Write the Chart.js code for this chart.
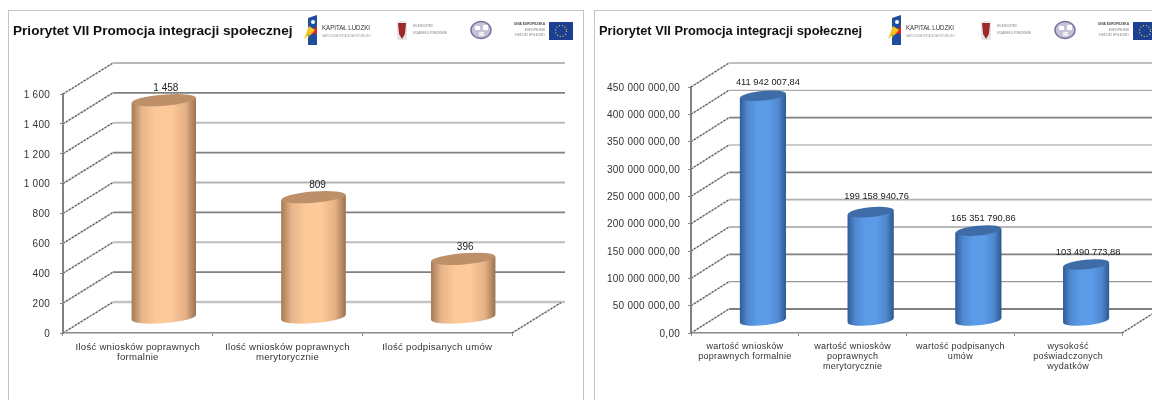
<!DOCTYPE html>
<html lang="pl">
<head>
<meta charset="utf-8">
<title>Priorytet VII Promocja integracji społecznej</title>
<script src="https://cdn.jsdelivr.net/npm/chart.js@4/dist/chart.umd.min.js"></script>
<style>
  html, body { margin: 0; padding: 0; background: #fff; width: 1152px; height: 400px; overflow: hidden; }
  .frame { position: absolute; top: 10px; height: 400px; border: 1px solid #c4c4c4; box-sizing: border-box; }
  canvas { position: absolute; top: 0; filter: blur(0.35px); }
  .title { position: absolute; top: 23px; font: bold 13px "Liberation Sans", Arial, sans-serif; color: #111; white-space: nowrap; filter: blur(0.25px); }
  svg.logos { position: absolute; top: 0; width: 300px; height: 60px; overflow: hidden; filter: blur(0.5px); }
</style>
</head>
<body>
<div class="frame" style="left:8px;width:576px"></div>
<div class="frame" style="left:594px;width:570px"></div>
<div class="title" id="title-left" style="left:13px;font-size:13.6px">Priorytet VII Promocja integracji społecznej</div>
<div class="title" id="title-right" style="left:599px;font-size:12.8px">Priorytet VII Promocja integracji społecznej</div>
<canvas id="chart-left" width="576" height="400" style="left:0"></canvas>
<canvas id="chart-right" width="576" height="400" style="left:576px"></canvas>
<script>
const countLabels = [
  ["Ilość wniosków poprawnych", "formalnie"],
  ["Ilość wniosków poprawnych", "merytorycznie"],
  "Ilość podpisanych umów",
];
const countValues = [1458, 809, 396];

const amountLabels = [
  ["wartość wniosków", "poprawnych formalnie"],
  ["wartość wniosków", "poprawnych", "merytorycznie"],
  ["wartość podpisanych", "umów"],
  ["wysokość", "poświadczonych", "wydatków"],
];
const amountValues = [411942007.84, 199158940.76, 165351790.86, 103490773.88];

const FONT = '"Liberation Sans", Arial, sans-serif';

const ORANGE = {
  stops: ["#a67a55", "#e6b58a", "#fdc998", "#fdc998", "#e4b085", "#9c7250"],
  lid: "#bd9069",
};
const BLUE = {
  stops: ["#2f5c96", "#4f88cf", "#5b9be8", "#5b9be8", "#4f88cf", "#2c5890"],
  lid: "#3e6ca6",
};

function spaced(n) {
  return String(n).replace(/\B(?=(\d{3})+(?!\d))/g, " ");
}
const formatCount = v => spaced(v);
const formatAmount = v => spaced(Math.floor(v)) + "," + v.toFixed(2).slice(-2);

function barGradient(chart, x, width, stops) {
  const g = chart.ctx.createLinearGradient(x - width / 2, 0, x + width / 2, 0);
  const pos = [0, 0.16, 0.38, 0.62, 0.84, 1];
  stops.forEach((c, i) => g.addColorStop(pos[i], c));
  return g;
}

// fake 3D walls and cylinder caps, everything hangs off the real scales
const cylinder3d = {
  id: "cylinder3d",
  beforeDraw(chart) {
    chart.ctx.letterSpacing = "0.25px";
  },
  beforeDatasetsDraw(chart, args, o) {
    const { ctx, scales: { y }, chartArea: area } = chart;
    const ticks = y.ticks.map(t => y.getPixelForValue(t.value));

    ctx.save();
    ticks.forEach((py, i) => {
      ctx.beginPath();
      ctx.strokeStyle = o.gridColors[i];
      ctx.lineWidth = o.gridWidths[i];
      ctx.moveTo(area.left + o.wallX, py + o.wallY);
      ctx.lineTo(o.wallEnd, py + o.wallY);
      ctx.stroke();
    });

    // dashed side wall lines plus the one on the right of the floor
    const slants = ticks.map(py => [area.left, py]);
    slants.push([area.right, area.bottom]);
    slants.forEach(([sx, sy]) => {
      ctx.beginPath();
      ctx.moveTo(sx, sy);
      ctx.lineTo(sx + o.wallX, sy + o.wallY);
      ctx.lineWidth = 1.8;
      ctx.setLineDash([]);
      ctx.strokeStyle = "#cfcfcf";
      ctx.stroke();
      ctx.setLineDash([2, 1.5]);
      ctx.strokeStyle = "#505050";
      ctx.lineWidth = 1.1;
      ctx.stroke();
    });
    ctx.restore();

    // bars sit halfway into the depth of the box
    ctx.save();
    ctx.translate(o.depthX, o.depthY);
    const bars = chart.getDatasetMeta(0).data;
    const slanted = bar => {
      const s = Math.sin(-o.capTilt) * bar.width / 2;
      const x0 = bar.x - bar.width / 2;
      const x1 = bar.x + bar.width / 2;
      ctx.moveTo(x0, bar.y + s);
      ctx.lineTo(x1, bar.y - s);
      ctx.lineTo(x1, bar.base - s);
      ctx.lineTo(x0, bar.base + s);
      ctx.closePath();
    };
    bars.forEach(bar => {
      ctx.fillStyle = barGradient(chart, bar.x, bar.width, o.palette.stops);
      ctx.beginPath();
      ctx.ellipse(bar.x, bar.base, bar.width / 2, o.capRadius, o.capTilt, 0, Math.PI * 2);
      ctx.fill();
      ctx.beginPath();
      slanted(bar);
      ctx.fill();
    });
    ctx.beginPath();
    bars.forEach(slanted);
    ctx.clip();
  },
  afterDatasetsDraw(chart, args, o) {
    const { ctx } = chart;
    ctx.restore();
    const meta = chart.getDatasetMeta(0);
    const values = chart.data.datasets[0].data;
    ctx.save();
    ctx.translate(o.depthX, o.depthY);
    ctx.letterSpacing = "0px";
    meta.data.forEach((bar, i) => {
      ctx.beginPath();
      ctx.ellipse(bar.x, bar.y, bar.width / 2, o.capRadius, o.capTilt, 0, Math.PI * 2);
      ctx.fillStyle = o.palette.lid;
      ctx.fill();

      ctx.fillStyle = "#222";
      ctx.font = o.labelSize + "px " + FONT;
      ctx.textAlign = "center";
      ctx.textBaseline = "middle";
      ctx.fillText(o.format(values[i]), bar.x + o.labelX[i], bar.y - o.labelY[i]);
    });
    ctx.restore();
  },
};

function drawPanel(id, labels, values, cfg) {
  const plot = cfg.plot;
  return new Chart(document.getElementById(id), {
    type: "bar",
    plugins: [cylinder3d],
    data: {
      labels,
      datasets: [{
        data: values,
        barPercentage: cfg.barPercentage,
        categoryPercentage: 1,
        clip: false,
        backgroundColor: c => {
          const sc = c.chart.scales.x;
          const w = (plot.right - plot.left) / labels.length * cfg.barPercentage;
          const px = sc ? sc.getPixelForValue(c.dataIndex) : NaN;
          if (!Number.isFinite(px)) return cfg.cylinder.palette.stops[2];
          return barGradient(c.chart, px, w, cfg.cylinder.palette.stops);
        },
      }],
    },
    options: {
      responsive: false,
      animation: false,
      devicePixelRatio: 1,
      layout: {
        autoPadding: false,
        padding: { top: plot.top, left: 0, right: 576 - plot.right, bottom: 0 },
      },
      plugins: {
        legend: { display: false },
        title: { display: false },
        tooltip: { enabled: false },
        cylinder3d: cfg.cylinder,
      },
      scales: {
        x: {
          afterFit: s => { s.height = 400 - plot.bottom; },
          grid: {
            drawOnChartArea: false, drawTicks: true, tickLength: 3, tickColor: "#888", offset: true,
          },
          border: { color: "#888", width: 1.5 },
          ticks: {
            maxRotation: 0, minRotation: 0, autoSkip: false, padding: 6,
            color: "#333", font: { family: FONT, size: cfg.catSize, lineHeight: cfg.catLine },
          },
        },
        y: {
          min: 0,
          max: cfg.max,
          afterFit: s => { s.width = plot.left; },
          grid: { drawOnChartArea: false, drawTicks: true, tickLength: 3, tickColor: "#888" },
          border: { color: "#808080", width: 2 },
          ticks: {
            stepSize: cfg.step, padding: cfg.tickPad, labelOffset: 1, color: "#333",
            font: { family: FONT, size: 10 },
            callback: cfg.tickFormat,
          },
        },
      },
    },
  });
}

drawPanel("chart-left", countLabels, countValues, {
  plot: { left: 63, right: 512, top: 94, bottom: 333 },
  max: 1600,
  step: 200,
  barPercentage: 0.43,
  tickPad: 10,
  catSize: 9.6,
  catLine: 1.05,
  tickFormat: v => spaced(v),
  cylinder: {
    palette: ORANGE, format: formatCount,
    wallX: 50, wallY: -31, wallEnd: 565,
    depthX: 26, depthY: -15,
    capRadius: 5.6, capTilt: -0.08,
    labelSize: 10,
    labelX: [2, 4, 2],
    labelY: [12, 12, 12],
    gridColors: ["#c4c4c4", "#808080", "#bdbdbd", "#808080", "#b4b4b4", "#808080", "#bdbdbd", "#808080", "#a0a0a0"],
    gridWidths: [2.4, 1.8, 1.8, 1.6, 1.8, 1.6, 1.8, 1.8, 1.6],
  },
});

drawPanel("chart-right", amountLabels, amountValues, {
  plot: { left: 115, right: 546, top: 87, bottom: 333 },
  max: 450000000,
  step: 50000000,
  barPercentage: 0.427,
  tickPad: 8,
  catSize: 9,
  catLine: 1.08,
  tickFormat: v => formatAmount(v),
  cylinder: {
    palette: BLUE, format: formatAmount,
    wallX: 38, wallY: -24, wallEnd: 580,
    depthX: 18, depthY: -12,
    capRadius: 4.8, capTilt: -0.1,
    labelSize: 9.3,
    labelX: [5, 6, 5, 2],
    labelY: [13, 16, 12, 12],
    gridColors: ["#808080", "#999", "#808080", "#a0a0a0", "#b0b0b0", "#808080", "#999", "#808080", "#aaa", "#aaa"],
    gridWidths: [1.8, 1.2, 1.8, 1.6, 1.6, 1.8, 1.2, 1.8, 1.4, 1.6],
  },
});

// logo strip, same artwork in both panels
const LOGOS = `
  <polygon points="9,6 18,3 18,33 9,33" fill="#1f4e9c"/>
  <polygon points="18,14 9,22 18,22" fill="#d8262c"/>
  <polygon points="10,14 5,27 11,22 8,27 16,18" fill="#f4c51e"/>
  <circle cx="14" cy="10" r="2" fill="#fff"/>
  <text x="23" y="18" font-size="7" textLength="48" lengthAdjust="spacingAndGlyphs" fill="#333">KAPITAŁ LUDZKI</text>
  <text x="23" y="25" font-size="3.4" textLength="49" lengthAdjust="spacingAndGlyphs" fill="#999">NARODOWA STRATEGIA SPÓJNOŚCI</text>
  <rect x="98" y="9" width="10" height="19" rx="2" fill="#e6e6e6"/>
  <path d="M99 11 L107 11 L106 22 L103 27 L100 22 Z" fill="#9c2a2a"/>
  <text x="114" y="15" font-size="3.4" textLength="20" lengthAdjust="spacingAndGlyphs" fill="#777">WOJEWÓDZTWO</text>
  <text x="114" y="22" font-size="3.4" textLength="34" lengthAdjust="spacingAndGlyphs" fill="#777">KUJAWSKO-POMORSKIE</text>
  <ellipse cx="182" cy="18" rx="10" ry="8.5" fill="#c4c2d8" stroke="#6f6c9a" stroke-width="1.4"/>
  <rect x="176" y="14" width="5" height="4" fill="#fff"/><rect x="184" y="13" width="5" height="5" fill="#fff"/><rect x="180" y="20" width="5" height="4" fill="#eee"/>
  <text x="246" y="13" font-size="3.6" font-weight="bold" text-anchor="end" textLength="31" lengthAdjust="spacingAndGlyphs" fill="#444">UNIA EUROPEJSKA</text>
  <text x="246" y="19" font-size="3.2" text-anchor="end" fill="#777">EUROPEJSKI</text>
  <text x="246" y="24" font-size="3.2" text-anchor="end" textLength="30" lengthAdjust="spacingAndGlyphs" fill="#777">FUNDUSZ SPOŁECZNY</text>
  <rect x="250" y="10" width="24" height="18" fill="#1c3f94"/>
  <circle cx="262" cy="19" r="5.5" fill="none" stroke="#e8d24a" stroke-width="1.1" stroke-dasharray="1 1.9"/>
`;
[299, 883].forEach(left => {
  const holder = document.createElement("div");
  holder.innerHTML = `<svg class="logos" viewBox="0 0 300 60" style="left:${left}px;top:12px;font-family:'Liberation Sans',Arial,sans-serif">${LOGOS}</svg>`;
  document.body.appendChild(holder.firstChild);
});
</script>
</body>
</html>
